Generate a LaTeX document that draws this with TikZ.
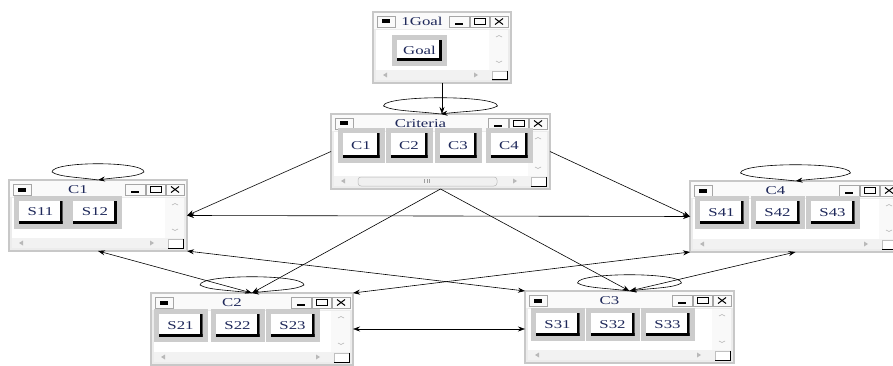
\documentclass[tikz,border=0pt]{standalone}
\usepackage{fontspec}
\newfontfamily\winfont{Liberation Serif}[FakeStretch=1.4]
\usetikzlibrary{calc,arrows.meta}

\definecolor{wintext}{RGB}{30,40,90}
\definecolor{winframe}{RGB}{200,200,200}
\definecolor{winbg}{RGB}{236,236,236}

\tikzset{
  window/.style={draw=winframe, line width=2pt, fill=winbg, inner sep=0pt, outer sep=0pt},
  ctrlbox/.style={draw=gray!70, fill=gray!4, line width=0.6pt},
  sbutton/.style={fill=white, inner sep=0pt, minimum width=44pt, minimum height=23pt,
    font=\winfont\fontsize{12}{12}\selectfont, text=wintext,
    preaction={draw=gray!40, line width=10pt},
    path picture={
      \fill[black] ([xshift=-3pt]path picture bounding box.north east) rectangle (path picture bounding box.south east);
      \fill[black] ([yshift=3pt]path picture bounding box.south west) rectangle (path picture bounding box.south east);}},
  cbutton/.style={sbutton, minimum width=37pt, minimum height=25pt},
  wtitle/.style={font=\winfont\fontsize{12}{12}\selectfont, text=wintext, inner sep=0pt},
  link/.style={line width=0.6pt, -{Stealth[length=7pt,width=5pt]}},
  link2/.style={line width=0.6pt, {Stealth[length=7pt,width=5pt]}-{Stealth[length=7pt,width=5pt]}},
}

% #1 name, #2 x, #3 y (top left), #4 width, #5 height, #6 title
\newcommand{\appwin}[6]{%
  \node[window, anchor=north west, minimum width=#4pt, minimum height=#5pt] (#1) at (#2,#3) {};
  % title bar
  \fill[gray!4] ($(#1.north west)+(1,1)$) rectangle ($(#1.north east)+(-1,17)$);
  \draw[ctrlbox] ($(#1.north west)+(4,4)$) rectangle ($(#1.north west)+(22,15)$);
  \fill[black] ($(#1.north west)+(9,7.5)$) rectangle ($(#1.north west)+(17,11.5)$);
  \node[wtitle] (#1-title) at ($(#1.north west)!0.5!(#1.north east)+(-20,9.5)$) {#6};
  \draw[ctrlbox] ($(#1.north east)+(-62,4)$) rectangle ($(#1.north east)+(-42,15)$);
  \draw[line width=1.5pt] ($(#1.north east)+(-56,12)$) -- ($(#1.north east)+(-48,12)$);
  \draw[ctrlbox] ($(#1.north east)+(-41,4)$) rectangle ($(#1.north east)+(-22,15)$);
  \draw[line width=0.7pt] ($(#1.north east)+(-37,6.5)$) rectangle ($(#1.north east)+(-26,12.5)$);
  \draw[line width=1.2pt] ($(#1.north east)+(-37,6.8)$) -- ($(#1.north east)+(-26,6.8)$);
  \draw[ctrlbox] ($(#1.north east)+(-21,4)$) rectangle ($(#1.north east)+(-3,15)$);
  \draw[line width=1pt] ($(#1.north east)+(-16,6.5)$) -- ($(#1.north east)+(-8,12.5)$)
    ($(#1.north east)+(-16,12.5)$) -- ($(#1.north east)+(-8,6.5)$);
  % client area and scroll bars
  \fill[white] ($(#1.north west)+(3,18)$) rectangle ($(#1.south east)+(-22,-13)$);
  \fill[gray!5] ($(#1.north east)+(-22,18)$) rectangle ($(#1.south east)+(-3,-13)$);
  \fill[gray!10] ($(#1.south west)+(3,-13)$) rectangle ($(#1.south east)+(-3,-3)$);
  \draw[gray!60, line width=0.6pt] ($(#1.north east)+(-15,25)$) -- ++(3,-1.5) -- ++(3,1.5);
  \draw[gray!60, line width=0.6pt] ($(#1.south east)+(-15,-22)$) -- ++(3,1.5) -- ++(3,-1.5);
  \fill[gray!55] ($(#1.south west)+(10,-8)$) -- ++(4,-2.5) -- ++(0,5) -- cycle;
  \fill[gray!55] ($(#1.south east)+(-33,-8)$) -- ++(-4,-2.5) -- ++(0,5) -- cycle;
  \draw[gray!50, fill=white, line width=0.5pt] ($(#1.south east)+(-19,-12)$) rectangle ($(#1.south east)+(-4,-3)$);
  \draw[black, line width=1pt] ($(#1.south east)+(-19,-3)$) -- ($(#1.south east)+(-4,-3)$) -- ($(#1.south east)+(-4,-12)$);
}

% #1 window, #2 half width of the loop
\newcommand{\selfloop}[2]{%
  \draw[link] (#1.north) .. controls +(-0.45*#2,-3) and +(0.15*#2,5) .. ++(-#2,-8)
    .. controls +(0,-11) and +(0,-11) .. ++(2*#2,0)
    .. controls +(-0.15*#2,5) and +(0.45*#2,-3) .. (#1.north);
}

\begin{document}
\begin{tikzpicture}[x=1pt, y=-1pt]
\useasboundingbox (0,0) rectangle (893,366);

% windows
\appwin{goal}{373}{12}{138}{71}{1Goal}
\appwin{crit}{331}{114}{219}{75}{Criteria}
\appwin{c1}{9}{180}{178}{71}{C1}
\appwin{c4}{690}{181}{211}{71}{C4}
\appwin{c2}{151}{293}{202}{72}{C2}
\appwin{c3}{525}{291}{209}{72}{C3}

% scroll thumb of the criteria window
\draw[gray!55, fill=gray!12, rounded corners=3pt, line width=0.5pt]
  ($(crit.south west)+(27,-12)$) rectangle ($(crit.south east)+(-53,-3)$);
\draw[gray!75, line width=0.6pt] ($(crit.south)+(-16,-10)$) -- ++(0,4)
  ($(crit.south)+(-13.5,-10)$) -- ++(0,4) ($(crit.south)+(-11,-10)$) -- ++(0,4);

% buttons
\node[sbutton, minimum width=45pt, minimum height=21pt] (goalb) at (419.5,50.5) {Goal};

\node[cbutton] (bc1) at (361,146) {C1};
\node[cbutton] (bc2) at (409,146) {C2};
\node[cbutton] (bc3) at (458,146) {C3};
\node[cbutton] (bc4) at (509,146) {C4};

\node[sbutton] (s11) at (40.5,212) {S11};
\node[sbutton] (s12) at (95,212) {S12};

\node[sbutton] (s41) at (721.5,212.5) {S41};
\node[sbutton] (s42) at (777.5,212.5) {S42};
\node[sbutton] (s43) at (832.5,212.5) {S43};

\node[sbutton] (s21) at (180.5,325.5) {S21};
\node[sbutton] (s22) at (237.5,325.5) {S22};
\node[sbutton] (s23) at (292.5,325.5) {S23};

\node[sbutton] (s31) at (557.5,324.5) {S31};
\node[sbutton] (s32) at (612.5,324.5) {S32};
\node[sbutton] (s33) at (667.5,324.5) {S33};

% inner dependence loops
\selfloop{crit}{57}
\selfloop{c1}{46}
\selfloop{c4}{55}
\selfloop{c2}{52}
\selfloop{c3}{52}

% links
\draw[link] (goal.south) -- (goal.south |- crit.north);
\draw[link] (crit.west) -- (c1.east);
\draw[link] (crit.east) -- (c4.west);
\draw[link] (crit.south) -- (c2.north);
\draw[link] (crit.south) -- (c3.north);
\draw[link2] (c1.east) -- (c4.west);
\draw[link2] (c1.south) -- (c2.north);
\draw[link2] (c1.south east) -- (c3.north west);
\draw[link2] (c4.south west) -- (c2.north east);
\draw[link2] (c4.south) -- (c3.north);
\draw[link2] (c2.east) -- (c2.east -| c3.west);
\end{tikzpicture}
\end{document}
